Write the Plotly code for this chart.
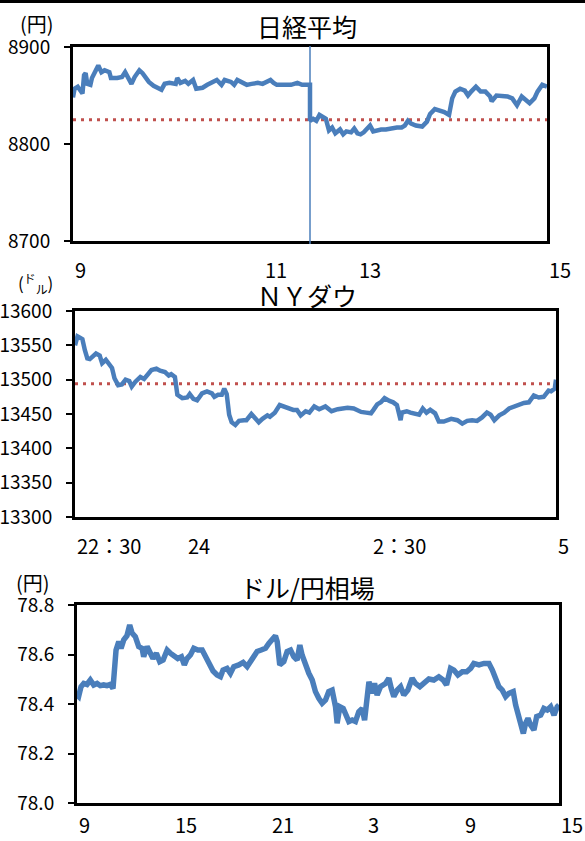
import plotly.graph_objects as go

W, H = 585, 841
FONT = "Noto Sans CJK JP"
BLUE = "#4A7EBB"
RED = "#C0504D"

# ---------------- 日経平均 (1-minute, 9:00-11:30 / 12:30-15:00) ----------------
nk_time = ["09:00", "09:01", "09:03", "09:05", "09:06", "09:07", "09:08", "09:09", "09:11", "09:12",
           "09:14", "09:16", "09:18", "09:20", "09:23", "09:24", "09:28", "09:31", "09:33", "09:35",
           "09:37", "09:39", "09:42", "09:44", "09:48", "09:51", "09:54", "09:56", "09:58", "10:01",
           "10:05", "10:06", "10:08", "10:11", "10:13", "10:16", "10:18", "10:22", "10:25", "10:28",
           "10:31", "10:34", "10:36", "10:40", "10:42", "10:44", "10:47", "10:50", "10:53", "10:57",
           "11:00", "11:03", "11:05", "11:07", "11:09", "11:14", "11:18", "11:22", "11:25", "11:30",
           "12:30", "12:32", "12:34", "12:36", "12:38", "12:40", "12:42", "12:44", "12:46", "12:49",
           "12:51", "12:53", "12:56", "12:58", "13:00", "13:02", "13:04", "13:08", "13:10", "13:12",
           "13:15", "13:18", "13:21", "13:25", "13:28", "13:30", "13:32", "13:34", "13:37", "13:41",
           "13:44", "13:46", "13:49", "13:52", "13:55", "13:58", "14:00", "14:02", "14:05", "14:08",
           "14:10", "14:12", "14:15", "14:18", "14:21", "14:24", "14:25", "14:28", "14:31", "14:35",
           "14:38", "14:41", "14:44", "14:47", "14:49", "14:52", "14:54", "14:57", "15:00"]
nk_value = [8848, 8857, 8859, 8854, 8852, 8871, 8873, 8862, 8861, 8868,
            8876, 8881, 8874, 8876, 8874, 8868, 8868, 8869, 8874, 8869,
            8862, 8869, 8876, 8873, 8864, 8860, 8857, 8856, 8862, 8863,
            8862, 8868, 8863, 8865, 8862, 8866, 8857, 8858, 8861, 8863,
            8866, 8861, 8866, 8864, 8861, 8866, 8864, 8861, 8862, 8863,
            8862, 8864, 8866, 8863, 8861, 8861, 8861, 8863, 8861, 8861,
            8824, 8826, 8824, 8830, 8828, 8826, 8814, 8817, 8811, 8815,
            8810, 8813, 8812, 8816, 8811, 8810, 8812, 8819, 8813, 8814,
            8815, 8815, 8816, 8817, 8817, 8819, 8824, 8821, 8819, 8818,
            8823, 8831, 8836, 8835, 8833, 8830, 8847, 8854, 8857, 8855,
            8850, 8854, 8859, 8854, 8854, 8849, 8844, 8850, 8850, 8849,
            8847, 8840, 8849, 8845, 8842, 8847, 8854, 8861, 8859]
nk_prev_close = 8825
nk_break_time = "11:30"
nk_tick_time = ["09:00", "11:00", "13:00", "15:00"]
nk_tick_text = ["9", "11", "13", "15"]
nk_yticks = [8700, 8800, 8900]

# ---------------- NYダウ (22:30 - 5:00 JST) ----------------
dow_time = ["22:30", "22:32", "22:34", "22:36", "22:38", "22:40", "22:42", "22:44", "22:47", "22:50",
            "22:52", "22:55", "22:58", "23:00", "23:02", "23:05", "23:08", "23:11", "23:14", "23:16",
            "23:19", "23:23", "23:26", "23:30", "23:32", "23:36", "23:39", "23:43", "23:46", "23:48",
            "23:51", "23:53", "23:57", "00:01", "00:03", "00:06", "00:09", "00:13", "00:17", "00:21",
            "00:23", "00:26", "00:29", "00:31", "00:33", "00:35", "00:37", "00:40", "00:43", "00:47",
            "00:49", "00:53", "00:56", "00:59", "01:02", "01:06", "01:08", "01:12", "01:16", "01:19",
            "01:23", "01:27", "01:30", "01:33", "01:37", "01:40", "01:44", "01:48", "01:53", "01:58",
            "02:03", "02:07", "02:11", "02:16", "02:22", "02:26", "02:30", "02:32", "02:35", "02:38",
            "02:41", "02:45", "02:48", "02:51", "02:54", "02:55", "02:59", "03:02", "03:06", "03:09",
            "03:12", "03:15", "03:18", "03:22", "03:25", "03:29", "03:35", "03:40", "03:44", "03:48",
            "03:52", "03:56", "04:00", "04:04", "04:07", "04:10", "04:14", "04:18", "04:22", "04:26",
            "04:30", "04:34", "04:38", "04:42", "04:46", "04:50", "04:54", "04:56", "04:59", "05:00"]
dow_value = [13550, 13563, 13561, 13559, 13543, 13531, 13530, 13534, 13538, 13535,
             13524, 13529, 13522, 13517, 13502, 13492, 13493, 13500, 13498, 13490,
             13497, 13504, 13501, 13509, 13514, 13516, 13513, 13511, 13506, 13508,
             13504, 13478, 13473, 13474, 13479, 13472, 13470, 13480, 13483, 13480,
             13475, 13478, 13478, 13487, 13479, 13449, 13438, 13434, 13440, 13441,
             13441, 13450, 13443, 13438, 13443, 13448, 13446, 13452, 13463, 13461,
             13458, 13456, 13456, 13448, 13454, 13452, 13461, 13457, 13461, 13454,
             13457, 13458, 13459, 13458, 13453, 13452, 13451, 13456, 13464, 13467,
             13473, 13469, 13467, 13463, 13441, 13452, 13454, 13452, 13451, 13449,
             13458, 13452, 13456, 13451, 13439, 13439, 13443, 13441, 13436, 13440,
             13441, 13440, 13445, 13452, 13449, 13441, 13448, 13452, 13458, 13461,
             13463, 13466, 13467, 13477, 13474, 13475, 13484, 13483, 13487, 13500]
dow_prev_close = 13494
dow_tick_time = ["22:30", "24:00", "02:30", "05:00"]
dow_tick_text = ["22：30", "24", "2：30", "5"]
dow_yticks = [13300, 13350, 13400, 13450, 13500, 13550, 13600]

# ---------------- ドル/円相場 (hours elapsed from 9:00) ----------------
fx_hours = [0.00, 0.10, 0.25, 0.42, 0.62, 0.83, 1.04, 1.25, 1.45, 1.66,
            1.87, 2.08, 2.24, 2.35, 2.43, 2.60, 2.74, 2.91, 3.11, 3.28,
            3.43, 3.63, 3.84, 4.05, 4.15, 4.36, 4.57, 4.73, 4.94, 5.15,
            5.36, 5.61, 5.81, 6.02, 6.27, 6.50, 6.68, 6.85, 7.06, 7.27,
            7.52, 7.79, 7.99, 8.20, 8.47, 8.72, 8.93, 9.09, 9.34, 9.55,
            9.76, 10.07, 10.34, 10.59, 10.80, 11.00, 11.21, 11.46, 11.73, 11.94,
            12.14, 12.35, 12.46, 12.62, 12.87, 13.08, 13.29, 13.49, 13.70, 13.87,
            14.01, 14.22, 14.43, 14.64, 14.84, 15.05, 15.26, 15.47, 15.67, 15.88,
            16.09, 16.19, 16.36, 16.57, 16.77, 16.92, 17.13, 17.33, 17.54, 17.75,
            17.90, 18.02, 18.17, 18.37, 18.52, 18.68, 18.89, 19.20, 19.41, 19.56,
            19.72, 19.93, 20.14, 20.34, 20.59, 20.86, 21.07, 21.34, 21.59, 21.90,
            22.21, 22.52, 22.79, 23.00, 23.25, 23.46, 23.71, 23.98, 24.25, 24.50,
            24.70, 25.02, 25.33, 25.64, 25.85, 26.05, 26.26, 26.47, 26.68, 26.88,
            27.15, 27.30, 27.44, 27.61, 27.78, 27.92, 28.07, 28.23, 28.44, 28.61,
            28.86, 29.06, 29.27, 29.48, 29.69, 29.89, 30.00]
fx_value = [78.436, 78.430, 78.470, 78.483, 78.479, 78.497, 78.477, 78.483, 78.474, 78.477,
            78.474, 78.479, 78.463, 78.530, 78.618, 78.652, 78.625, 78.659, 78.676, 78.719,
            78.686, 78.672, 78.632, 78.625, 78.591, 78.632, 78.605, 78.584, 78.605, 78.571,
            78.578, 78.618, 78.605, 78.598, 78.584, 78.591, 78.558, 78.584, 78.598, 78.625,
            78.618, 78.618, 78.591, 78.558, 78.533, 78.517, 78.510, 78.537, 78.544, 78.524,
            78.551, 78.558, 78.568, 78.551, 78.571, 78.584, 78.612, 78.618, 78.625, 78.645,
            78.659, 78.676, 78.652, 78.558, 78.571, 78.612, 78.618, 78.591, 78.578, 78.638,
            78.598, 78.551, 78.524, 78.497, 78.450, 78.423, 78.403, 78.416, 78.450, 78.456,
            78.389, 78.322, 78.389, 78.382, 78.355, 78.329, 78.335, 78.329, 78.369, 78.382,
            78.335, 78.423, 78.490, 78.443, 78.483, 78.436, 78.470, 78.483, 78.504, 78.463,
            78.430, 78.456, 78.470, 78.436, 78.456, 78.504, 78.483, 78.470, 78.483, 78.501,
            78.497, 78.510, 78.497, 78.477, 78.544, 78.537, 78.517, 78.530, 78.530, 78.544,
            78.564, 78.558, 78.564, 78.564, 78.537, 78.497, 78.470, 78.456, 78.430, 78.443,
            78.450, 78.396, 78.355, 78.329, 78.281, 78.322, 78.342, 78.315, 78.295, 78.349,
            78.355, 78.382, 78.376, 78.389, 78.355, 78.389, 78.396]
fx_tick_hours = [0, 6, 12, 18, 24, 30]
fx_tick_text = ["9", "15", "21", "3", "9", "15"]
fx_yticks = [78.0, 78.2, 78.4, 78.6, 78.8]
fx_ytick_text = ["78.0", "78.2", "78.4", "78.6", "78.8"]


def nk_pos(t):
    h, m = map(int, t.split(":"))
    v = h * 60 + m - 540
    return v - 60 if v >= 210 else v


def dow_pos(t):
    h, m = map(int, t.split(":"))
    v = h * 60 + m
    if h < 12:
        v += 1440
    return v - 1350


def px(x):
    return x / W


def py(y):
    return 1 - y / H


fig = go.Figure()

nk_x = [nk_pos(t) for t in nk_time]
dow_x = [dow_pos(t) for t in dow_time]

fig.add_trace(go.Scatter(x=[nk_x[0], nk_x[-1]], y=[nk_prev_close] * 2, mode="lines",
                         line=dict(color=RED, width=3, dash="3px,5px"), xaxis="x", yaxis="y"))
fig.add_trace(go.Scatter(x=nk_x, y=nk_value, mode="lines",
                         line=dict(color=BLUE, width=4.5), xaxis="x", yaxis="y"))

fig.add_trace(go.Scatter(x=[dow_x[0], dow_x[-1]], y=[dow_prev_close] * 2, mode="lines",
                         line=dict(color=RED, width=3, dash="3px,5px"), xaxis="x2", yaxis="y2"))
fig.add_trace(go.Scatter(x=dow_x, y=dow_value, mode="lines",
                         line=dict(color=BLUE, width=4.5), xaxis="x2", yaxis="y2"))

fig.add_trace(go.Scatter(x=fx_hours, y=fx_value, mode="lines",
                         line=dict(color=BLUE, width=5.5), xaxis="x3", yaxis="y3"))

doms = {
    1: ([px(73), px(547)], [py(241), py(47)]),
    2: ([px(75), px(556)], [py(517), py(311)]),
    3: ([px(77), px(559)], [py(803), py(605)]),
}

xranges = {1: [0, 300], 2: [0, 390], 3: [0, 30]}
yranges = {1: [8700, 8900], 2: [13300, 13600], 3: [78.0, 78.8]}
yticks = {1: (nk_yticks, [str(v) for v in nk_yticks]),
          2: (dow_yticks, [str(v) for v in dow_yticks]),
          3: (fx_yticks, fx_ytick_text)}

layout = dict(
    template="none",
    width=W, height=H, margin=dict(l=0, r=0, t=0, b=0, pad=0), autosize=False,
    paper_bgcolor="white", plot_bgcolor="white", showlegend=False,
    font=dict(family=FONT, color="black", size=19),
)
for i in (1, 2, 3):
    sx = "" if i == 1 else str(i)
    layout["xaxis" + sx] = dict(
        domain=doms[i][0], range=xranges[i], anchor="y" + sx, automargin=False,
        showline=True, linecolor="black", linewidth=3, mirror=True,
        showgrid=False, zeroline=False, showticklabels=False, ticks="",
    )
    layout["yaxis" + sx] = dict(
        domain=doms[i][1], range=yranges[i], anchor="x" + sx, automargin=False,
        showline=True, linecolor="black", linewidth=3, mirror=True,
        showgrid=False, zeroline=False,
        tickmode="array", tickvals=yticks[i][0], ticktext=yticks[i][1],
        ticks="outside", ticklen=6, tickwidth=2, tickcolor="black",
        ticklabelstandoff=10, tickfont=dict(family=FONT, size=19, color="black"),
    )
fig.update_layout(**layout)

ann = []
# x tick labels (left aligned on tick positions)
for t, s in zip(nk_tick_time, nk_tick_text):
    ann.append(dict(x=nk_pos(t), y=py(253), xref="x", yref="paper", text=s,
                    xanchor="left", yanchor="top", showarrow=False, font=dict(size=20)))
for t, s in zip(dow_tick_time, dow_tick_text):
    ann.append(dict(x=dow_pos(t), y=py(529), xref="x2", yref="paper", text=s,
                    xanchor="left", yanchor="top", showarrow=False, font=dict(size=20)))
for t, s in zip(fx_tick_hours, fx_tick_text):
    ann.append(dict(x=t, y=py(841), xref="x3", yref="paper", text=s,
                    xanchor="left", yanchor="bottom", showarrow=False, font=dict(size=20)))

# titles
for text, y in (("日経平均", 26), ("ＮＹダウ", 295), ("ドル/円相場", 587)):
    ann.append(dict(x=px(307), y=py(y), xref="paper", yref="paper", text=text,
                    xanchor="center", yanchor="middle", showarrow=False, font=dict(size=25)))
# units
ann.append(dict(x=px(18), y=py(24), xref="paper", yref="paper", text="(円)",
                xanchor="left", yanchor="middle", showarrow=False, font=dict(size=20)))
ann.append(dict(x=px(16), y=py(283), xref="paper", yref="paper",
                text="(<sup>ド</sup><sub>ル</sub>)",
                xanchor="left", yanchor="middle", showarrow=False, font=dict(size=17)))
ann.append(dict(x=px(14), y=py(582), xref="paper", yref="paper", text="(円)",
                xanchor="left", yanchor="middle", showarrow=False, font=dict(size=20)))
fig.update_layout(annotations=ann)

shapes = [
    dict(type="rect", xref="paper", yref="paper", x0=0, x1=1, y0=py(3), y1=1,
         fillcolor="black", line=dict(width=0)),
    dict(type="line", xref="x", yref="paper", x0=nk_pos(nk_break_time), x1=nk_pos(nk_break_time),
         y0=py(244), y1=py(46), line=dict(color=BLUE, width=1.5)),
]
fig.update_layout(shapes=shapes)

fig.write_html("out.html", config={"displayModeBar": False},
               post_script="document.body.style.margin='0';document.body.style.overflow='hidden';")
